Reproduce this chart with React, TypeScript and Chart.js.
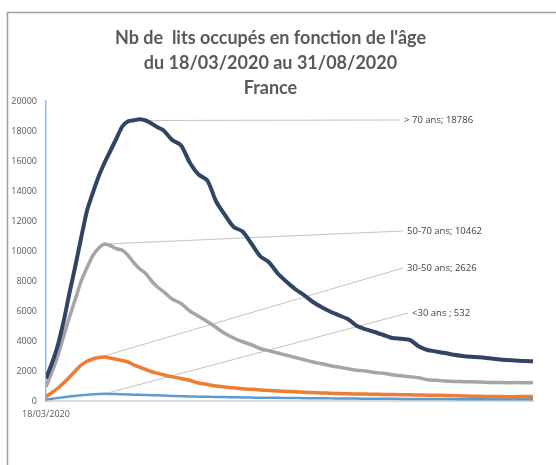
import React, { useEffect, useRef } from 'react';
import { Chart, registerables } from 'chart.js';
Chart.register(...registerables);

const titleLines = ["Nb de  lits occupés en fonction de l'âge", 'du 18/03/2020 au 31/08/2020', 'France'];
const startDateLabel = '18/03/2020';
const yTicks = [0, 2000, 4000, 6000, 8000, 10000, 12000, 14000, 16000, 18000, 20000];

// day offsets from 18/03/2020 (last = 31/08/2020)
const days = [0, 2, 4, 6, 8, 10, 12, 14, 16, 18, 20, 22, 24, 26, 28, 30, 32, 34, 36, 38, 40, 43, 46, 49, 52, 55, 58, 61, 64, 67, 70, 73, 76, 79, 82, 85, 88, 91, 94, 97, 100, 103, 106, 109, 112, 115, 118, 121, 124, 127, 130, 133, 136, 139, 142, 145, 148, 151, 154, 157, 160, 163, 166];

const over70 = [1500, 2500, 3700, 5300, 7200, 9000, 10900, 12700, 13900, 15000, 15900, 16700, 17500, 18300, 18650, 18720, 18786, 18700, 18500, 18250, 18050, 17400, 17050, 15900, 15100, 14700, 13300, 12400, 11600, 11300, 10500, 9650, 9250, 8500, 7950, 7450, 7050, 6600, 6250, 5950, 5700, 5450, 5000, 4780, 4600, 4400, 4200, 4150, 4080, 3650, 3400, 3300, 3200, 3080, 3000, 2950, 2920, 2850, 2780, 2730, 2700, 2660, 2650];
const age50to70 = [950, 1900, 3000, 4300, 5600, 6800, 8000, 8900, 9700, 10200, 10462, 10350, 10150, 10050, 9700, 9200, 8800, 8500, 8000, 7600, 7300, 6800, 6500, 6000, 5650, 5300, 4900, 4500, 4200, 3950, 3750, 3500, 3350, 3200, 3050, 2900, 2750, 2600, 2480, 2350, 2250, 2150, 2050, 2000, 1900, 1850, 1750, 1680, 1620, 1550, 1420, 1380, 1330, 1300, 1290, 1280, 1260, 1240, 1230, 1220, 1230, 1210, 1230];
const age30to50 = [290, 550, 850, 1200, 1600, 2000, 2400, 2650, 2800, 2900, 2930, 2850, 2780, 2700, 2600, 2400, 2250, 2100, 1950, 1850, 1750, 1620, 1500, 1380, 1200, 1100, 1000, 930, 880, 820, 780, 740, 700, 670, 640, 620, 590, 560, 540, 510, 500, 480, 470, 460, 450, 440, 430, 420, 410, 400, 390, 380, 370, 350, 340, 320, 310, 300, 300, 290, 290, 300, 290];
const under30 = [100, 150, 200, 250, 300, 340, 380, 420, 450, 470, 480, 470, 460, 450, 440, 420, 410, 400, 390, 380, 360, 340, 320, 300, 290, 280, 270, 260, 250, 240, 230, 220, 215, 210, 200, 195, 190, 185, 180, 175, 170, 165, 160, 155, 150, 150, 145, 140, 140, 135, 130, 130, 130, 125, 125, 120, 120, 120, 120, 120, 120, 120, 120];

const seriesNames = ['> 70 ans', '50-70 ans', '30-50 ans', '<30 ans'];
const seriesColors = ['#2F4563', '#A5A5A5', '#ED7D31', '#5B9BD5'];
const seriesWidths = [4, 3.5, 3.5, 2.5];
const labelValueTexts = ['18786', '10462', '2626', '532'];
const labelSeparators = ['; ', '; ', '; ', ' ; '];

// annotation leader lines: start on the curve (day), end at label anchor (day, value)
const leaderStartDays = [34, 20, 18, 20];
const labelAnchorDays = [120.7, 121.7, 121.7, 123.4];
const labelAnchorValues = [18733, 11333, 8867, 5867];

const seriesData = [over70, age50to70, age30to50, under30];

export default function App() {
  const ref = useRef<HTMLCanvasElement | null>(null);

  useEffect(() => {
    const canvas = ref.current;
    if (!canvas) return;

    const framePlugin = {
      id: 'frame',
      beforeDraw(chart: any) {
        const ctx = chart.ctx;
        ctx.save();
        ctx.fillStyle = '#ffffff';
        ctx.fillRect(0, 0, chart.width, chart.height);
        ctx.strokeStyle = '#a0a0a0';
        ctx.lineWidth = 1.5;
        ctx.beginPath();
        ctx.moveTo(7.5, chart.height);
        ctx.lineTo(7.5, 12.5);
        ctx.lineTo(chart.width, 12.5);
        ctx.stroke();
        ctx.restore();
      },
    };

    const leaderPlugin = {
      id: 'leaders',
      beforeDatasetsDraw(chart: any) {
        const ctx = chart.ctx;
        const xs = chart.scales.x;
        const ys = chart.scales.y;
        ctx.save();
        ctx.strokeStyle = '#c4c4c4';
        ctx.lineWidth = 1;
        seriesData.forEach((arr, i) => {
          const idx = days.indexOf(leaderStartDays[i]);
          const x0 = xs.getPixelForValue(days[idx]);
          const y0 = ys.getPixelForValue(arr[idx]);
          const x1 = xs.getPixelForValue(labelAnchorDays[i]);
          const y1 = ys.getPixelForValue(labelAnchorValues[i]);
          ctx.beginPath();
          ctx.moveTo(x0, y0);
          ctx.lineTo(x1, y1);
          ctx.stroke();
        });
        ctx.restore();
      },
      afterDraw(chart: any) {
        const ctx = chart.ctx;
        const xs = chart.scales.x;
        const ys = chart.scales.y;
        ctx.save();
        ctx.fillStyle = '#404040';
        ctx.font = '9.5px "Open Sans", sans-serif';
        ctx.textAlign = 'left';
        ctx.textBaseline = 'middle';
        seriesNames.forEach((name, i) => {
          const x1 = xs.getPixelForValue(labelAnchorDays[i]);
          const y1 = ys.getPixelForValue(labelAnchorValues[i]);
          ctx.fillText(name + labelSeparators[i] + labelValueTexts[i], x1 + 4, y1);
        });
        ctx.restore();
      },
    };

    const chart = new Chart(canvas, {
      type: 'line',
      data: {
        datasets: seriesData.map((arr, i) => ({
          label: seriesNames[i],
          data: arr.map((v, j) => ({ x: days[j], y: v })),
          borderColor: seriesColors[i],
          backgroundColor: seriesColors[i],
          borderWidth: seriesWidths[i],
          pointRadius: 0,
          tension: 0.25,
          fill: false,
        })),
      },
      options: {
        responsive: false,
        animation: false,
        devicePixelRatio: 1,
        layout: { padding: { left: 8, right: 23, top: 12, bottom: 0 } },
        plugins: {
          legend: { display: false },
          tooltip: { enabled: false },
          title: {
            display: true,
            text: titleLines,
            color: '#595959',
            font: { family: 'Lato, "Open Sans", sans-serif', size: 18, weight: 'bold', lineHeight: 25 / 18 },
            padding: { top: 14, bottom: 0 },
          },
        },
        scales: {
          x: {
            type: 'linear',
            min: 0,
            max: days[days.length - 1],
            grid: { display: false, drawTicks: false },
            border: { display: true, color: '#d9d9d9', width: 2 },
            afterBuildTicks: (scale: any) => {
              scale.ticks = [{ value: 0 }];
            },
            afterFit: (scale: any) => {
              scale.height = 64;
            },
            ticks: {
              padding: 8,
              color: '#595959',
              font: { family: '"Open Sans", sans-serif', size: 9 },
              maxRotation: 0,
              autoSkip: false,
              callback: () => startDateLabel,
            },
          },
          y: {
            type: 'linear',
            min: 0,
            max: 20000,
            grid: { display: false, drawTicks: false },
            border: { display: true, color: '#8fbbe6', width: 1.5 },
            afterBuildTicks: (scale: any) => {
              scale.ticks = yTicks.map((v) => ({ value: v }));
            },
            afterFit: (scale: any) => {
              scale.width = 38;
            },
            ticks: {
              padding: 9,
              color: '#595959',
              font: { family: '"Open Sans", sans-serif', size: 9 },
              callback: (v: any) => String(v),
            },
          },
        },
      },
      plugins: [framePlugin, leaderPlugin],
    });

    return () => chart.destroy();
  }, []);

  return (
    <div style={{ position: 'fixed', left: 0, top: 0, width: 556, height: 465, background: '#fff' }}>
      <canvas ref={ref} width={556} height={465} style={{ display: 'block' }} />
    </div>
  );
}
